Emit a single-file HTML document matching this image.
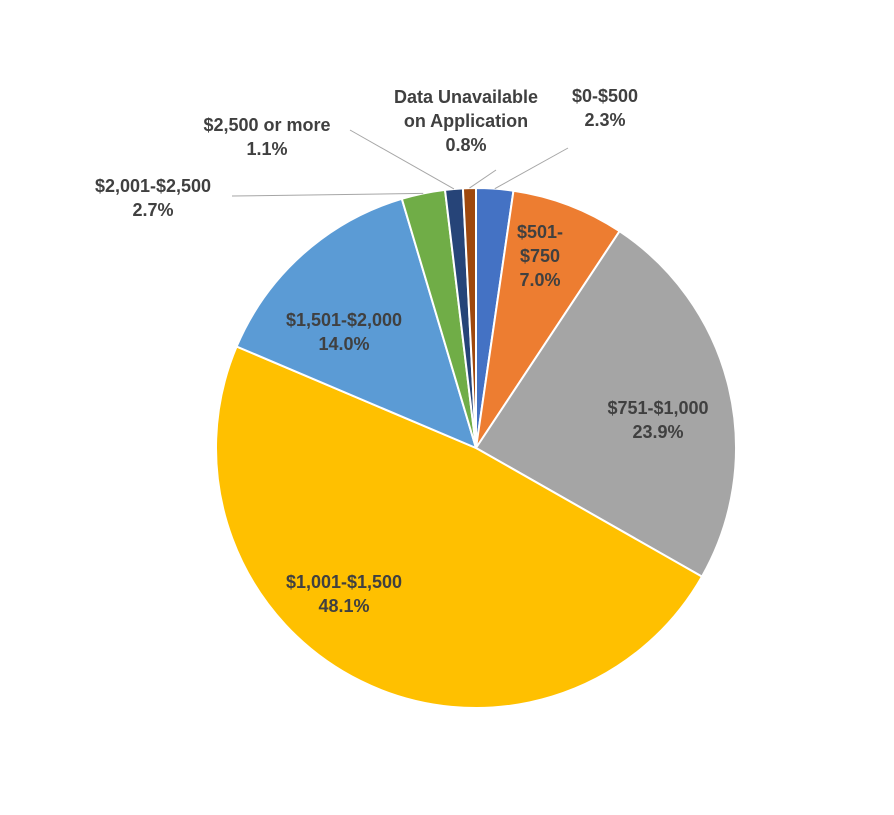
<!DOCTYPE html>
<html><head><meta charset="utf-8"><style>
body{margin:0;background:#fff;}
svg text{font-family:"Liberation Sans",sans-serif;font-weight:bold;font-size:18px;fill:#404040;}
</style></head><body>
<svg id="chart" width="894" height="810" xmlns="http://www.w3.org/2000/svg">
<g id="slices"></g><g id="lines"></g><g id="labels"></g>
</svg>
<script>
const categories=["$0-$500","$501-$750","$751-$1,000","$1,001-$1,500","$1,501-$2,000","$2,001-$2,500","$2,500 or more","Data Unavailable on Application"];
const values=[2.3,7.0,23.9,48.1,14.0,2.7,1.1,0.8];
const valueLabels=["2.3%","7.0%","23.9%","48.1%","14.0%","2.7%","1.1%","0.8%"];
const colors=["#4472C4","#ED7D31","#A5A5A5","#FFC000","#5B9BD5","#70AD47","#264478","#9E480E"];
const labelLines=[["$0-$500","2.3%"],["$501-","$750","7.0%"],["$751-$1,000","23.9%"],["$1,001-$1,500","48.1%"],["$1,501-$2,000","14.0%"],["$2,001-$2,500","2.7%"],["$2,500 or more","1.1%"],["Data Unavailable","on Application","0.8%"]];
const labelPos=[[605,102],[540,238],[658,414],[344,588],[344,326],[153,192],[267,131],[466,103]];
const inside=[false,true,true,true,true,false,false,false];
const leaderEnd=[[568,148],null,null,null,null,[232,196],[350,130],[496,170]];
const NS="http://www.w3.org/2000/svg";
const cx=476,cy=448,R=260;
const total=values.reduce((a,b)=>a+b,0);
function pt(frac,r){const a=frac*2*Math.PI-Math.PI/2;return [cx+r*Math.cos(a),cy+r*Math.sin(a)];}
let acc=0;
const gS=document.getElementById('slices'),gL=document.getElementById('lines'),gT=document.getElementById('labels');
values.forEach((v,i)=>{
 const f0=acc/total,f1=(acc+v)/total;acc+=v;
 const p0=pt(f0,R),p1=pt(f1,R);
 const large=(f1-f0)>0.5?1:0;
 const p=document.createElementNS(NS,'path');
 p.setAttribute('d',`M${cx},${cy}L${p0[0]},${p0[1]}A${R},${R} 0 ${large} 1 ${p1[0]},${p1[1]}Z`);
 p.setAttribute('fill',colors[i]);p.setAttribute('stroke','#fff');p.setAttribute('stroke-width','2');
 
 
 gS.appendChild(p);
 if(leaderEnd[i]){
  const m=pt((f0+f1)/2,R);const e=leaderEnd[i];
  const l=document.createElementNS(NS,'polyline');
  l.setAttribute('points',`${m[0]},${m[1]} ${e[0]},${e[1]}`);
  l.setAttribute('fill','none');l.setAttribute('stroke','#A6A6A6');l.setAttribute('stroke-width','1');
  
  
  gL.appendChild(l);
 }
 const t=document.createElementNS(NS,'text');
 t.setAttribute('text-anchor','middle');
 
 
 const lines=labelLines[i];
 lines.forEach((s,j)=>{const ts=document.createElementNS(NS,'tspan');ts.setAttribute('x',labelPos[i][0]);ts.setAttribute('y',labelPos[i][1]+j*24);ts.textContent=s;t.appendChild(ts);});
 gT.appendChild(t);
});
</script>
</body></html>
